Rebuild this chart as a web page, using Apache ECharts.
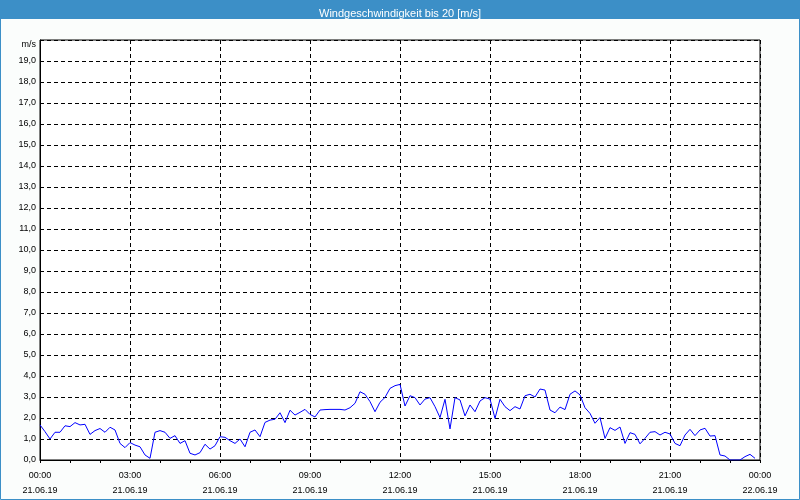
<!DOCTYPE html>
<html>
<head>
<meta charset="utf-8">
<script src="https://cdn.jsdelivr.net/npm/echarts@6/dist/echarts.min.js"></script>
<style>
html,body{margin:0;padding:0;background:#fbfdfc;}
#c{width:800px;height:500px;}
</style>
</head>
<body>
<div id="c"></div>
<script>
// Time in minutes since 21.06.19 00:00 (10-minute steps)
const stepMinutes = 10;
const windSpeed = [
  1.67,1.35,1.00,1.32,1.32,1.63,1.59,1.78,1.67,1.70,1.22,1.40,1.50,1.32,1.56,1.43,0.79,0.59,0.83,0.71,0.63,0.24,0.08,1.32,
  1.40,1.32,1.03,1.16,0.79,0.92,0.32,0.24,0.35,0.75,0.52,0.68,1.11,1.08,0.92,0.79,1.00,0.63,1.32,1.43,1.11,1.79,1.90,1.94,
  2.25,1.78,2.37,2.14,2.27,2.41,2.17,2.05,2.38,2.40,2.41,2.41,2.41,2.38,2.49,2.70,3.25,3.13,2.78,2.30,2.75,2.98,3.41,3.54,
  3.60,2.57,3.06,2.97,2.62,2.90,2.97,2.54,2.02,2.89,1.48,2.97,2.86,2.10,2.62,2.30,2.81,2.97,2.90,1.98,2.89,2.54,2.35,2.54,
  2.43,3.06,3.13,3.00,3.38,3.33,2.38,2.25,2.52,2.40,3.13,3.29,3.10,2.49,2.22,1.75,2.02,1.03,1.54,1.41,1.57,0.79,1.30,1.22,
  0.77,1.03,1.32,1.35,1.19,1.32,1.24,0.79,0.68,1.19,1.46,1.16,1.43,1.51,1.14,1.16,0.24,0.19,0.00,0.00,0.00,0.16,0.27,0.08
];
const titleText = 'Windgeschwindigkeit bis 20 [m/s]';
const unitLabel = 'm/s';
const xMin = 0, xMax = 1440, xInterval = 180;
const yMin = 0, yMax = 20, yInterval = 1;

const seriesData = windSpeed.map((v, i) => [i * stepMinutes, v]);

function pad(n){ return (n < 10 ? '0' : '') + n; }
function xLabel(v){
  const day = 21 + Math.floor(v / 1440);
  const m = v % 1440;
  return pad(Math.floor(m / 60)) + ':' + pad(m % 60) + '\n' + day + '.06.19';
}

const chart = echarts.init(document.getElementById('c'), null, {renderer: 'canvas'});
const font = 'Liberation Sans';
chart.setOption({
  backgroundColor: '#fbfdfc',
  animation: false,
  graphic: [
    {type: 'rect', shape: {x: 0, y: 0, width: 800, height: 19}, style: {fill: '#3c8fc7'}, z: -1},
    {type: 'rect', shape: {x: 0.5, y: 0.5, width: 799, height: 499}, style: {fill: null, stroke: '#3c8fc7', lineWidth: 1}, z: 10}
  ],
  title: {
    text: titleText,
    left: 'center',
    top: 3,
    textStyle: {color: '#ffffff', fontFamily: font, fontSize: 11, fontWeight: 'normal'}
  },
  grid: {left: 40, right: 40, top: 40, bottom: 40, show: true, borderColor: '#000', borderWidth: 1, backgroundColor: '#ffffff'},
  xAxis: {
    type: 'value', min: xMin, max: xMax, interval: xInterval,
    axisLine: {show: true, onZero: false, lineStyle: {color: '#000', width: 1}},
    axisTick: {show: true, length: 3, lineStyle: {color: '#000'}},
    minorTick: {show: true, splitNumber: 3, length: 3, lineStyle: {color: '#000'}},
    axisLabel: {formatter: xLabel, color: '#000', fontFamily: font, fontSize: 9, lineHeight: 15, margin: 8},
    splitLine: {show: true, lineStyle: {color: '#000', type: [4, 3], width: 1}}
  },
  yAxis: {
    type: 'value', min: yMin, max: yMax, interval: yInterval,
    axisLine: {show: true, lineStyle: {color: '#000', width: 1}},
    axisTick: {show: false},
    axisLabel: {
      color: '#000', fontFamily: font, fontSize: 9, margin: 4,
      formatter: v => v === yMax ? '{u|' + unitLabel + '}' : v.toFixed(1).replace('.', ','),
      rich: {u: {color: '#000', fontFamily: font, fontSize: 9, padding: [10, 0, 0, 0]}}
    },
    splitLine: {show: true, lineStyle: {color: '#000', type: [4, 3], width: 1}}
  },
  series: [{
    type: 'line',
    data: seriesData,
    showSymbol: false,
    lineStyle: {color: '#0000ff', width: 1},
    itemStyle: {color: '#0000ff'}
  }]
});
</script>
</body>
</html>
